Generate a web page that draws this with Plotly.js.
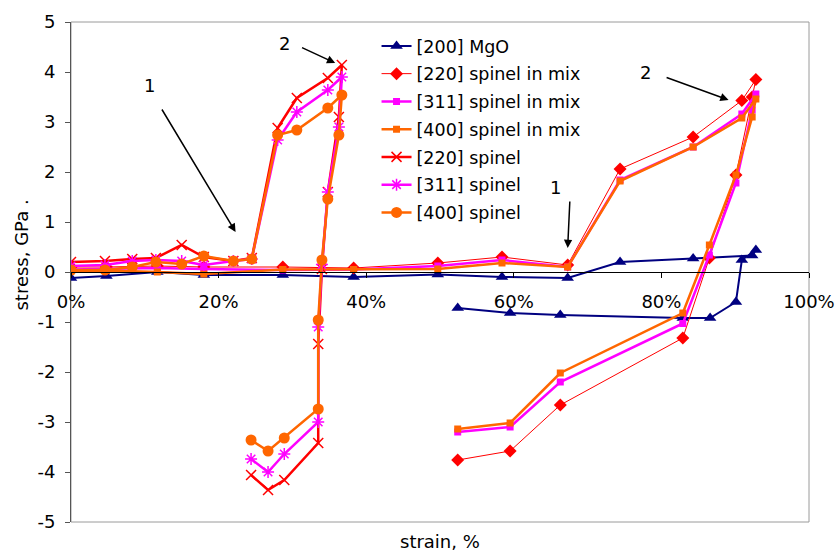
<!DOCTYPE html>
<html>
<head>
<meta charset="utf-8">
<script src="https://cdn.plot.ly/plotly-3.0.1.min.js"></script>
<style>html,body{margin:0;padding:0;background:#fff}#chart{width:837px;height:551px}</style>
</head>
<body>
<div id="chart"></div>
<script>
// strain (%) values
const mgoX = [0, 4.8, 11.7, 18.0, 28.7, 38.3, 49.7, 58.4, 67.3, 74.4, 84.3, 92.3, 92.8, 90.9, 90.1, 86.6, 82.9, 66.3, 59.5, 52.4];
const mgoY = [-0.12, -0.08, 0.0, -0.06, -0.06, -0.1, -0.05, -0.1, -0.12, 0.2, 0.27, 0.33, 0.44, 0.24, -0.6, -0.92, -0.92, -0.86, -0.82, -0.72];

const mixX = [0, 4.8, 11.7, 18.0, 28.7, 38.3, 49.7, 58.4, 67.3, 74.4, 84.3, 90.9, 92.8, 92.3, 90.1, 86.5, 82.9, 66.3, 59.5, 52.4];
const mix220Y = [0.1, 0.1, 0.12, 0.1, 0.1, 0.08, 0.18, 0.3, 0.14, 2.06, 2.7, 3.43, 3.85, 3.5, 1.94, 0.28, -1.32, -2.66, -3.58, -3.76];
const mix311Y = [0.05, 0.06, 0.08, 0.06, 0.04, 0.05, 0.12, 0.24, 0.1, 1.84, 2.5, 3.16, 3.56, 3.24, 1.78, 0.34, -1.03, -2.2, -3.1, -3.2];
const mix400Y = [0.02, 0.03, 0.0, -0.04, 0.05, 0.05, 0.06, 0.18, 0.1, 1.82, 2.5, 3.08, 3.46, 3.1, 1.94, 0.54, -0.82, -2.02, -3.02, -3.14];

const spX = [0, 4.6, 8.3, 11.5, 15.0, 18.0, 22.0, 24.5, 28.0, 30.6, 34.8, 36.7, 36.3, 34.8, 34.0, 33.5, 33.5, 28.9, 26.7, 24.4];
const sp220Y = [0.2, 0.22, 0.26, 0.28, 0.54, 0.3, 0.22, 0.28, 2.88, 3.48, 3.88, 4.14, 3.1, 1.6, 0.06, -1.44, -3.42, -4.16, -4.36, -4.06];
const sp311Y = [0.12, 0.14, 0.22, 0.24, 0.22, 0.14, 0.22, 0.26, 2.64, 3.2, 3.64, 3.9, 2.9, 1.6, 0.15, -1.1, -3.0, -3.64, -4.0, -3.74];
const sp400Y = [0.04, 0.04, 0.1, 0.2, 0.16, 0.32, 0.22, 0.26, 2.74, 2.84, 3.28, 3.54, 2.74, 1.46, 0.24, -0.96, -2.74, -3.32, -3.58, -3.36];

const seriesNames = ["[200] MgO", "[220] spinel in mix", "[311] spinel in mix", "[400] spinel in mix", "[220] spinel", "[311] spinel", "[400] spinel"];
const xTicks = [0, 20, 40, 60, 80, 100];
const yTicks = [-5, -4, -3, -2, -1, 0, 1, 2, 3, 4, 5];

const NAVY = '#000080', RED = '#FF0000', MAG = '#FF00FF', ORA = '#FF6600';
const FONT = 'DejaVu Sans, sans-serif';

const traces = [
  {x: mgoX, y: mgoY, name: seriesNames[0], mode: 'lines+markers', legendgroup: 'a',
   line: {color: NAVY, width: 2}, marker: {symbol: 'triangle-up', size: 11, color: NAVY}},
  {x: mixX, y: mix220Y, name: seriesNames[1], mode: 'lines+markers', legendgroup: 'b',
   line: {color: RED, width: 1}, marker: {symbol: 'diamond', size: 10, color: RED}},
  {x: mixX, y: mix311Y, name: seriesNames[2], mode: 'lines+markers', legendgroup: 'c',
   line: {color: MAG, width: 2.5}, marker: {symbol: 'square', size: 7, color: MAG}},
  {x: mixX, y: mix400Y, name: seriesNames[3], mode: 'lines+markers', legendgroup: 'd',
   line: {color: ORA, width: 2.5}, marker: {symbol: 'square', size: 7, color: ORA}},
  {x: spX, y: sp220Y, name: seriesNames[4], mode: 'lines+markers', legendgroup: 'e',
   line: {color: RED, width: 2.5}, marker: {symbol: 'x-thin-open', size: 10, color: RED, line: {color: RED, width: 1.5}}},
  {x: spX, y: sp311Y, name: seriesNames[5], mode: 'lines+markers', legendgroup: 'f',
   line: {color: MAG, width: 2.5}, marker: {symbol: 'asterisk-open', size: 10, color: MAG, line: {color: MAG, width: 1.5}}},
  {x: spX, y: sp400Y, name: seriesNames[6], mode: 'lines+markers', legendgroup: 'g',
   line: {color: ORA, width: 2.5}, marker: {symbol: 'circle', size: 11, color: ORA}}
];

const arrowStyle = {showarrow: true, arrowhead: 2, arrowsize: 1.1, arrowwidth: 1.5, arrowcolor: '#000',
  xref: 'x', yref: 'y', axref: 'x', ayref: 'y', text: ''};
const txt = (x, y, t) => ({x, y, xref: 'x', yref: 'y', text: t, showarrow: false, font: {size: 18, color: '#000', family: FONT}});

const layout = {
  width: 837, height: 551,
  margin: {l: 71, r: 28, t: 22, b: 29},
  paper_bgcolor: '#fff', plot_bgcolor: '#fff',
  font: {family: FONT, size: 18, color: '#000'},
  showlegend: true,
  legend: {x: 0.414, y: 0.988, xanchor: 'left', yanchor: 'top', bgcolor: 'rgba(0,0,0,0)',
           font: {size: 17.5, family: FONT}, tracegroupgap: 2},
  xaxis: {range: [0, 100], tickvals: xTicks, ticktext: xTicks.map(v => v + '%'),
          anchor: 'free', position: 0.5, showgrid: false, zeroline: false,
          showline: true, linecolor: '#000', linewidth: 1, ticks: 'outside', ticklen: 5, tickcolor: '#000',
          ticklabelstandoff: 8, tickfont: {size: 18, family: FONT}},
  xaxis2: {range: [0, 100], tickvals: xTicks, overlaying: 'x', anchor: 'free', position: 0.5,
           showgrid: false, zeroline: false, showline: false, showticklabels: false,
           ticks: 'inside', ticklen: 5, tickcolor: '#000'},
  yaxis: {range: [-5, 5], tickvals: yTicks, ticktext: yTicks.map(v => String(v)),
          showgrid: false, zeroline: false,
          showline: true, linecolor: '#555', linewidth: 1, ticks: 'outside', ticklen: 5, tickcolor: '#555',
          ticklabelstandoff: 6, tickfont: {size: 18, family: FONT}},
  shapes: [{type: 'rect', xref: 'paper', yref: 'paper', x0: 0, x1: 1, y0: 0, y1: 1,
            line: {color: '#9a9a9a', width: 1}, layer: 'below'}],
  annotations: [
    Object.assign({}, arrowStyle, {x: 22.3, y: 0.8, ax: 12.2, ay: 3.28}),
    txt(10.6, 3.74, '1'),
    Object.assign({}, arrowStyle, {x: 35.8, y: 4.18, ax: 31.1, ay: 4.5}),
    txt(28.9, 4.58, '2'),
    Object.assign({}, arrowStyle, {x: 89.1, y: 3.44, ax: 80.5, ay: 3.9}),
    txt(77.9, 4.0, '2'),
    Object.assign({}, arrowStyle, {x: 67.3, y: 0.48, ax: 67.6, ay: 1.44}),
    txt(65.7, 1.7, '1'),
    {x: 0.5, y: -0.038, xref: 'paper', yref: 'paper', xanchor: 'center', yanchor: 'middle',
     text: 'strain, %', showarrow: false, font: {size: 18, family: FONT}},
    {x: -0.067, y: 0.534, xref: 'paper', yref: 'paper', xanchor: 'center', yanchor: 'middle',
     text: 'stress, GPa .', showarrow: false, textangle: -90, font: {size: 18, family: FONT}}
  ]
};

Plotly.newPlot('chart', traces, layout, {staticPlot: true, displayModeBar: false});
</script>
</body>
</html>
